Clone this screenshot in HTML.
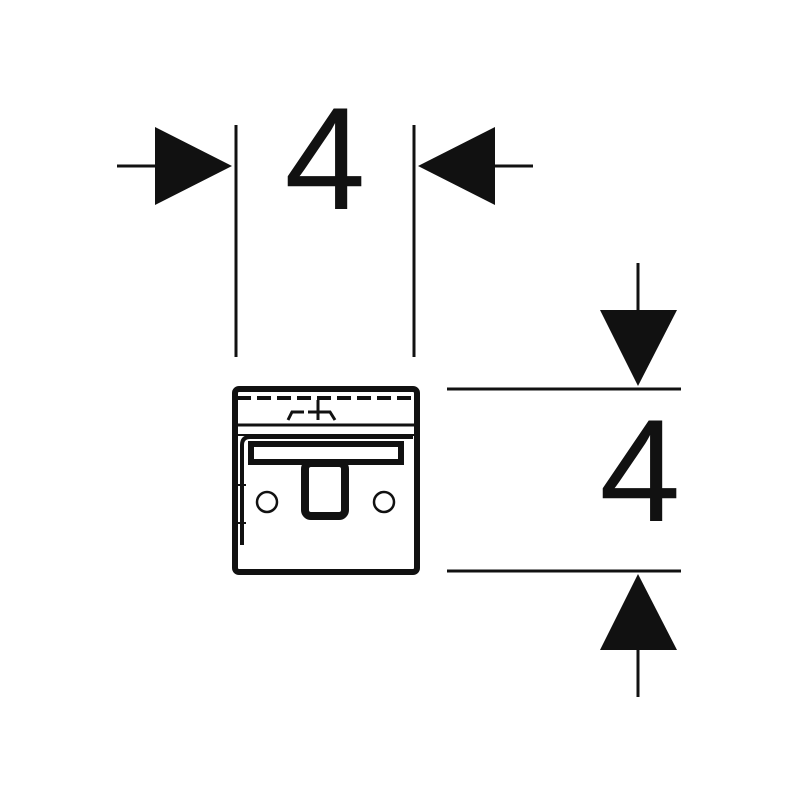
<!DOCTYPE html>
<html><head><style>body{margin:0;background:#fff}</style></head><body>
<svg width="800" height="800" viewBox="0 0 800 800" xmlns="http://www.w3.org/2000/svg">
<rect width="800" height="800" fill="#fff"/>
<g stroke="#111" stroke-width="3" fill="none">
<line x1="236" y1="125" x2="236" y2="357"/>
<line x1="414" y1="125" x2="414" y2="357"/>
<line x1="117" y1="166" x2="160" y2="166"/>
<line x1="495" y1="166" x2="533" y2="166"/>
<line x1="447" y1="389" x2="681" y2="389"/>
<line x1="447" y1="571" x2="681" y2="571"/>
<line x1="638" y1="263" x2="638" y2="312"/>
<line x1="638" y1="648" x2="638" y2="697"/>
</g>
<g fill="#111">
<polygon points="232,166 155,127 155,205"/>
<polygon points="418,166 495,127 495,205"/>
<polygon points="638,386 600,310 677,310"/>
<polygon points="638,574 600,650 677,650"/>
</g>
<g font-family="Liberation Sans, sans-serif" font-size="146" fill="#111" text-anchor="middle">
<text x="325" y="209">4</text>
<text x="640" y="521">4</text>
</g>
<g stroke="#111" fill="none">
<rect x="235" y="389" width="182" height="183" rx="4" stroke-width="6"/>
<line x1="237" y1="398" x2="415" y2="398" stroke-width="4" stroke-dasharray="14,6"/>
<line x1="237" y1="425" x2="415" y2="425" stroke-width="3"/>
<line x1="237" y1="435" x2="415" y2="435" stroke-width="2"/>
<path d="M288 420 L292 412 L304 412 M308 412 L330 412 L335 420" stroke-width="3"/>
<line x1="318" y1="400" x2="318" y2="420" stroke-width="3"/>
<path d="M413 437 L250 437 Q242 437 242 445 L242 545" stroke-width="4"/>
<rect x="251" y="444" width="150" height="18" stroke-width="6"/>
<rect x="305" y="463" width="40" height="53" rx="6" stroke-width="8"/>
<circle cx="267" cy="502" r="10" stroke-width="2.5"/>
<circle cx="384" cy="502" r="10" stroke-width="2.5"/>
<line x1="237" y1="485" x2="246" y2="485" stroke-width="2"/>
<line x1="237" y1="523" x2="246" y2="523" stroke-width="2"/>
</g>
</svg>
</body></html>
